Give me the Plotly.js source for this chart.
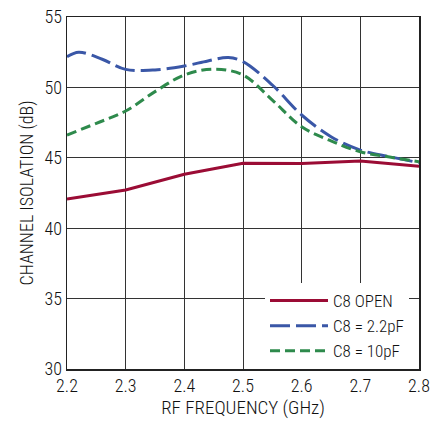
<!DOCTYPE html>
<html>
<head>
<meta charset="utf-8">
<script src="https://cdn.plot.ly/plotly-3.0.1.min.js"></script>
<style>html,body{margin:0;padding:0;background:#fff;}#chart{width:432px;height:423px;}</style>
</head>
<body>
<div id="chart"></div>
<script>
const seriesNames = ["C8 OPEN", "C8 = 2.2pF", "C8 = 10pF"];
const xOpen = [2.2, 2.3, 2.4, 2.5, 2.6, 2.7, 2.8];
const yOpen = [42.07, 42.71, 43.83, 44.61, 44.6, 44.77, 44.4];
const x22 = [2.2, 2.22, 2.26, 2.3, 2.35, 2.4, 2.44, 2.475, 2.5, 2.55, 2.6, 2.65, 2.7, 2.75, 2.8];
const y22 = [52.18, 52.5, 52.0, 51.28, 51.24, 51.52, 51.88, 52.13, 51.83, 50.17, 48.04, 46.5, 45.55, 45.08, 44.65];
const x10 = [2.2, 2.25, 2.3, 2.35, 2.4, 2.45, 2.5, 2.55, 2.6, 2.65, 2.7, 2.75, 2.8];
const y10 = [46.62, 47.45, 48.32, 49.7, 50.88, 51.3, 50.88, 49.1, 47.2, 46.2, 45.43, 45.05, 44.72];
const xTicks = [2.2, 2.3, 2.4, 2.5, 2.6, 2.7, 2.8];
const yTicks = [30, 35, 40, 45, 50, 55];

const FONT = "'Roboto Condensed', 'DejaVu Sans Condensed', Arial, sans-serif";
const W = 300;
const TXT = '#111';

const traces = [
  {x: xOpen, y: yOpen, name: seriesNames[0], mode: 'lines',
   line: {color: '#9b0c35', width: 3, shape: 'linear'}},
  {x: x22, y: y22, name: seriesNames[1], mode: 'lines',
   line: {color: '#3a57a7', width: 3, shape: 'spline', smoothing: 1, dash: '20px,6px'}},
  {x: x10, y: y10, name: seriesNames[2], mode: 'lines',
   line: {color: '#2e8a4c', width: 3, shape: 'spline', smoothing: 1, dash: '10px,5px'}}
];

const layout = {
  width: 432, height: 423,
  margin: {l: 67, r: 13, t: 17, b: 54},
  paper_bgcolor: '#fff', plot_bgcolor: '#fff',
  font: {family: FONT, color: TXT, size: 18, weight: W},
  showlegend: true,
  legend: {x: 0.5625, y: 0, xanchor: 'left', yanchor: 'bottom', bgcolor: '#fff',
    borderwidth: 0, font: {family: FONT, size: 17, color: TXT, weight: W},
    itemwidth: 58, tracegroupgap: 0},
  xaxis: {range: [2.2, 2.8], tickvals: xTicks, ticktext: xTicks.map(v => v.toFixed(1)),
    showgrid: true, gridcolor: '#333', gridwidth: 1, zeroline: false,
    showline: true, linecolor: '#222', linewidth: 1.5, mirror: true, ticks: '',
    tickfont: {family: FONT, size: 18, color: TXT, weight: W},
    title: {text: 'RF FREQUENCY (GHz)', font: {family: FONT, size: 19, color: TXT, weight: W}, standoff: 4}},
  yaxis: {range: [30, 55], tickvals: yTicks,
    showgrid: true, gridcolor: '#333', gridwidth: 1, zeroline: false,
    showline: true, linecolor: '#222', linewidth: 1.5, mirror: true, ticks: '',
    tickfont: {family: FONT, size: 18, color: TXT, weight: W},
    title: {text: 'CHANNEL ISOLATION (dB)', font: {family: FONT, size: 18, color: TXT, weight: W}, standoff: 6}}
};

Plotly.newPlot('chart', traces, layout, {displayModeBar: false, staticPlot: true});
</script>
</body>
</html>
